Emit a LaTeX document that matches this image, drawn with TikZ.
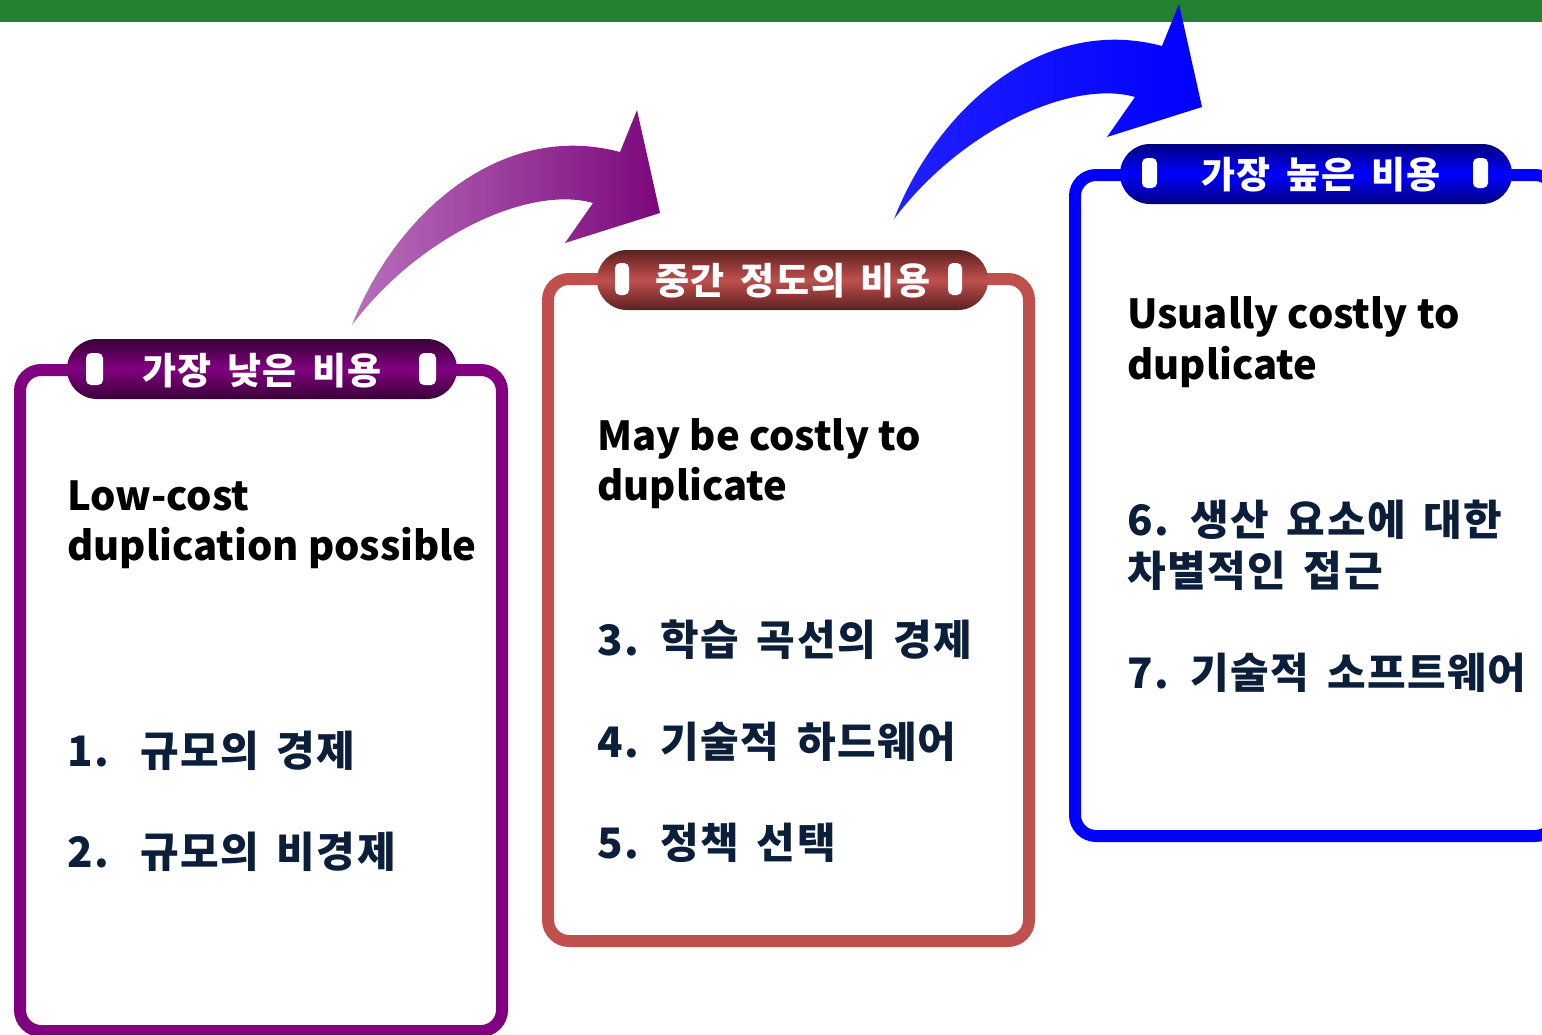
\documentclass[tikz,border=0pt]{standalone}
\usepackage{fontspec}
\setmainfont{Noto Sans CJK KR}
\newfontfamily\krfont{Noto Sans CJK KR}[WordSpace=1.6,LetterSpace=3.5]
\definecolor{gbar}{RGB}{34,130,48}
\definecolor{cP}{RGB}{128,0,128}
\definecolor{cPd}{RGB}{58,0,55}
\definecolor{cR}{RGB}{192,80,77}
\definecolor{cRd}{RGB}{92,32,32}
\definecolor{cB}{RGB}{0,0,255}
\definecolor{cBd}{RGB}{0,0,128}
\definecolor{navytxt}{RGB}{11,31,58}
\definecolor{aPl}{RGB}{184,112,188}
\definecolor{aPr}{RGB}{124,8,124}
\definecolor{aBl}{RGB}{32,32,255}
\definecolor{aBr}{RGB}{0,0,255}
\tikzset{
  frame/.style={draw=#1, line width=12pt, rounded corners=21pt},
  tabpill/.style 2 args={top color=#2, bottom color=#2, middle color=#1, rounded corners=30pt},
  hole/.style={fill=white, rounded corners=5pt},
  tabtext/.style={text=white, font=\krfont\fontsize{37}{40}\selectfont\bfseries, inner sep=0pt, anchor=base},
  entxt/.style={text=black, font=\fontsize{40}{50}\selectfont\bfseries, inner sep=0pt, anchor=base west},
  krtxt/.style={text=navytxt, font=\krfont\fontsize{42}{50}\selectfont\bfseries, inner sep=0pt, anchor=base west},
}
\begin{document}
\begin{tikzpicture}[x=1pt,y=-1pt]
\useasboundingbox (0,0) rectangle (1542,1034);
\clip (0,0) rectangle (1542,1034);
% green bar
\fill[gbar] (0,0) rectangle (1542,22);
% arrows
\path[left color=aPl, right color=aPr]
  (352,325) .. controls (395,215) and (500,120) .. (620,152)
  -- (637,110) -- (660,213) -- (565,243) -- (593,203)
  .. controls (530,185) and (420,235) .. (352,325) -- cycle;
\begin{scope}[shift={(542,-106)}]
\path[left color=aBl, right color=aBr]
  (352,325) .. controls (395,215) and (500,120) .. (620,152)
  -- (637,110) -- (660,213) -- (565,243) -- (593,203)
  .. controls (530,185) and (420,235) .. (352,325) -- cycle;
\end{scope}
% frames
\draw[frame=cP] (20,370) rectangle (502,1031);
\draw[frame=cR] (548,279) rectangle (1029,941);
\draw[frame=cB] (1075,175) rectangle (1556,836);
% tabs
\path[tabpill={cP}{cPd}] (67,339) rectangle (457,399);
\path[hole] (86,353) rectangle (103,385);
\path[hole] (419,353) rectangle (436,385);
\node[tabtext] (t1) at (262,384) {가장 낮은 비용};
\path[tabpill={cR}{cRd}] (597,250) rectangle (988,310);
\path[hole] (615,263) rectangle (629,295);
\path[hole] (948,263) rectangle (962,295);
\node[tabtext] (t2) at (793,294) {중간 정도의 비용};
\path[tabpill={cB}{cBd}] (1120,144) rectangle (1512,204);
\path[hole] (1142,158) rectangle (1157,188);
\path[hole] (1473,158) rectangle (1488,188);
\node[tabtext] (t3) at (1321,188) {가장 높은 비용};
% box 1 text
\node[entxt] (a1) at (67,510) {Low-cost};
\node[entxt] (a2) at (67,560) {duplication possible};
\node[krtxt] (n1) at (67,766) {1.};
\node[krtxt] (k1) at (140,766) {규모의 경제};
\node[krtxt] (n2) at (67,867) {2.};
\node[krtxt] (k2) at (140,867) {규모의 비경제};
% box 2 text
\node[entxt] (b1) at (597,450) {May be costly to};
\node[entxt] (b2) at (597,500) {duplicate};
\node[krtxt] (k3) at (597,655) {3. 학습 곡선의 경제};
\node[krtxt] (k4) at (597,757) {4. 기술적 하드웨어};
\node[krtxt] (k5) at (597,858) {5. 정책 선택};
% box 3 text
\node[entxt] (c1) at (1127,328) {Usually costly to};
\node[entxt] (c2) at (1127,379) {duplicate};
\node[krtxt] (k6) at (1127,535) {6. 생산 요소에 대한};
\node[krtxt] (k6b) at (1127,586) {차별적인 접근};
\node[krtxt] (k7) at (1127,688) {7. 기술적 소프트웨어};
\end{tikzpicture}
\end{document}
